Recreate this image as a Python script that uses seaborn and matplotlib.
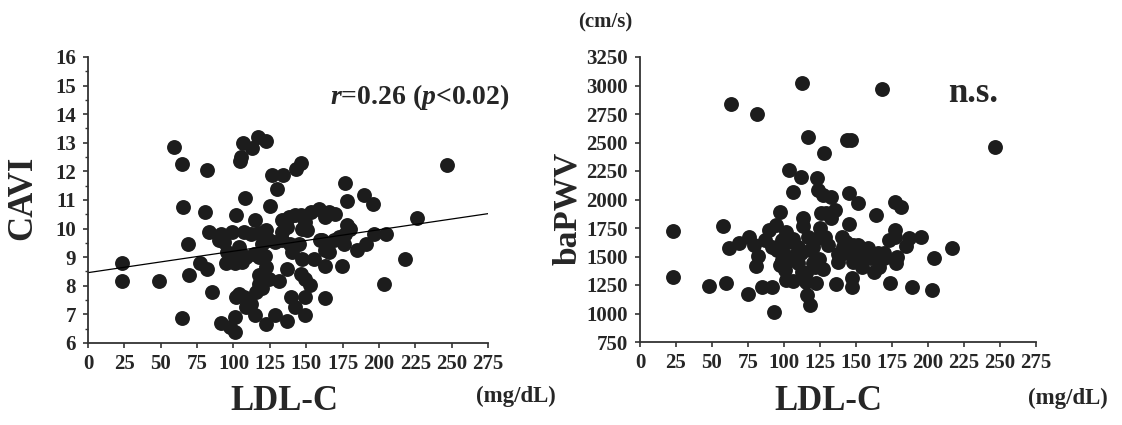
import numpy as np
import seaborn as sns
import matplotlib
matplotlib.use("Agg")
import matplotlib.pyplot as plt
from matplotlib.ticker import MultipleLocator

# LDL-C (mg/dL) vs CAVI
cavi_ldl = [23.3, 23.3, 48.9, 59.2, 64.9, 65.4, 69.0, 69.5, 64.9, 76.8,
            81.6, 82.1, 80.5, 85.5, 83.2, 91.2, 97.4, 101.0, 101.0, 101.5,
            104.9, 104.5, 106.5, 112.9, 116.8, 122.1, 107.9, 114.7, 124.8, 126.6,
            134.2, 130.1, 143.3, 146.1, 246.6, 176.9, 178.1, 189.5, 195.9, 226.1,
            205.0, 196.3, 191.1, 184.9, 218.1, 203.7, 174.6, 162.7, 163.2, 163.2,
            159.8, 170.1, 165.5, 158.6, 153.6, 155.2, 152.9, 149.5, 146.1, 147.2,
            149.0, 149.0, 139.9, 142.6, 136.9, 136.9, 131.2, 128.5, 122.1, 114.7,
            108.5, 101.5, 103.8, 107.2, 111.8, 115.2, 117.5, 120.2, 122.1, 124.3,
            119.8, 117.5, 103.8, 106.1, 105.0, 108.5, 94.6, 95.8, 99.2, 101.0,
            91.2, 90.1, 93.5, 99.2, 107.2, 111.8, 117.5, 122.1, 119.8, 124.3,
            128.9, 133.5, 133.5, 137.9, 142.4, 146.1, 139.2, 140.3, 145.0, 147.2,
            150.6, 149.5, 133.5, 136.9, 114.1, 117.5, 121.7, 172.3, 176.9, 180.3,
            178.1, 175.8, 168.9, 165.5, 163.2, 161.0]
cavi = [8.80, 8.17, 8.17, 12.86, 12.26, 10.77, 9.47, 8.37, 6.88, 8.80,
        8.57, 12.05, 10.58, 7.79, 9.88, 6.69, 6.57, 6.39, 6.92, 10.46,
        12.49, 12.38, 12.98, 12.82, 13.19, 13.07, 11.08, 10.29, 10.79, 11.88,
        11.88, 11.39, 12.09, 12.28, 12.23, 11.60, 10.98, 11.19, 10.87, 10.37,
        9.80, 9.80, 9.47, 9.26, 8.92, 8.06, 8.68, 7.59, 8.68, 9.26,
        9.59, 10.52, 10.58, 10.69, 10.58, 8.92, 8.02, 8.25, 8.43, 8.95,
        7.61, 6.98, 7.61, 7.27, 6.77, 8.60, 8.17, 6.98, 6.65, 6.98,
        7.27, 7.61, 7.73, 7.61, 7.38, 7.79, 8.08, 8.43, 8.66, 8.25,
        7.91, 8.37, 9.36, 8.83, 9.12, 9.01, 8.80, 9.18, 9.07, 8.78,
        9.82, 9.59, 9.53, 9.88, 9.88, 9.82, 9.84, 9.96, 9.47, 9.59,
        9.53, 9.61, 10.29, 10.40, 10.46, 10.46, 9.47, 9.18, 9.47, 10.00,
        9.96, 10.23, 9.88, 10.05, 9.12, 9.01, 9.03, 9.71, 9.82, 10.00,
        10.11, 9.47, 9.59, 9.18, 10.40, 9.59]

# regression line as printed in the figure (intercept, slope)
cavi_fit = (8.46, 0.0075)

# LDL-C (mg/dL) vs baPWV (cm/s), right panel
pwv_ldl = [23.0, 23.0, 48.2, 59.7, 57.7, 61.6, 63.2, 68.5, 74.9, 75.8,
           79.5, 82.2, 80.4, 81.1, 84.5, 91.4, 93.3, 89.6, 94.2, 97.2,
           86.8, 91.4, 94.9, 98.3, 101.1, 102.9, 97.2, 100.6, 101.7, 106.4,
           106.4, 103.6, 106.4, 111.6, 112.5, 113.3, 113.3, 107.5, 109.8, 112.5,
           115.5, 116.2, 117.8, 116.7, 117.8, 120.1, 122.4, 124.1, 127.0, 123.1,
           123.6, 127.0, 127.7, 132.8, 124.7, 125.9, 129.3, 123.6, 128.2, 130.5,
           135.5, 132.8, 136.2, 137.4, 140.1, 143.1, 143.8, 146.6, 145.4, 145.4,
           147.0, 147.7, 147.0, 147.0, 151.2, 151.2, 154.1, 156.9, 158.5, 162.6,
           163.8, 166.1, 169.1, 168.4, 173.0, 173.7, 176.9, 176.9, 176.9, 178.7,
           177.6, 181.5, 184.5, 186.8, 189.1, 194.8, 202.8, 204.5, 216.7, 246.5,
           96.0, 99.5, 109.8, 112.0, 115.5, 121.3, 140.8, 141.9, 151.2, 154.6,
           160.3, 165.0, 169.6, 98.3, 104.0, 116.7, 120.1, 137.4, 147.7]
bapwv = [1727, 1323, 1244, 1270, 1768, 1572, 2838, 1621, 1168, 1668,
         1601, 1504, 1417, 2750, 1235, 1235, 1010, 1732, 1776, 1887,
         1645, 1586, 1557, 1645, 1718, 1630, 1425, 1382, 1294, 1285,
         1651, 2259, 2069, 2200, 3025, 1841, 1768, 1513, 1440, 1367,
         1279, 1162, 1075, 2545, 1557, 1440, 1270, 1475, 1387, 2186,
         2083, 2039, 2405, 2025, 1753, 1879, 1879, 1659, 1668, 1601,
         1908, 1835, 1259, 1522, 1674, 1630, 2522, 2522, 2054, 1782,
         1513, 1601, 1308, 1235, 1972, 1513, 1411, 1513, 1572, 1367,
         1864, 1411, 1528, 2966, 1645, 1270, 1732, 1668, 1981, 1499,
         1440, 1937, 1592, 1659, 1235, 1674, 1206, 1484, 1572, 2463,
         1586, 1528, 1586, 1528, 1352, 1411, 1586, 1528, 1601, 1499,
         1484, 1528, 1484, 1469, 1469, 1674, 1586, 1455, 1455]

x_ticks = list(range(0, 276, 25))

sns.set_style("ticks")
plt.rcParams["font.family"] = ["Liberation Serif", "DejaVu Serif"]
plt.rcParams["font.weight"] = "bold"
plt.rcParams["mathtext.fontset"] = "custom"
plt.rcParams["mathtext.it"] = "Liberation Serif:italic:bold"
plt.rcParams["mathtext.rm"] = "Liberation Serif:bold"

W, H = 1122, 425
fig = plt.figure(figsize=(W / 100, H / 100), dpi=100)
ax1 = fig.add_axes([88 / W, 1 - 343 / H, 400 / W, 286 / H])
ax2 = fig.add_axes([640 / W, 1 - 342 / H, 396 / W, 285 / H])

dot = "#1c1c1c"
sns.scatterplot(x=cavi_ldl, y=cavi, ax=ax1, s=115, color=dot, linewidth=0)
ax1.axline((0, cavi_fit[0]), slope=cavi_fit[1], color="black", lw=0.9)
sns.scatterplot(x=pwv_ldl, y=bapwv, ax=ax2, s=115, color=dot, linewidth=0)

ax1.set_ylim(6, 16)
ax1.yaxis.set_major_locator(MultipleLocator(1))
ax1.yaxis.set_minor_locator(MultipleLocator(0.5))
ax2.set_ylim(750, 3250)
ax2.yaxis.set_major_locator(MultipleLocator(250))

for ax in (ax1, ax2):
    ax.set_xlim(0, 275)
    ax.set_xticks(x_ticks)
    ax.set_xlabel("")
    ax.set_ylabel("")
    sns.despine(ax=ax)
    for sp in ("left", "bottom"):
        ax.spines[sp].set_linewidth(1.3)
        ax.spines[sp].set_color("#333333")
    ax.tick_params(which="major", direction="out", length=3.6, width=1.2,
                   color="#333333", labelsize=15, pad=4)
    ax.tick_params(which="minor", direction="out", length=2.5, width=1.0,
                   color="#333333")
    ax.tick_params(axis="y", pad=5)
    for lab in ax.get_xticklabels() + ax.get_yticklabels():
        lab.set_fontweight("bold")

fig.text(23 / W, 1 - 198 / H, "CAVI", fontsize=25, rotation=90,
         ha="center", va="center")
fig.text(568 / W, 1 - 208 / H, "baPWV", fontsize=24, rotation=90,
         ha="center", va="center")
fig.text(284 / W, 1 - 402 / H, "LDL-C", fontsize=25, ha="center", va="center")
fig.text(828 / W, 1 - 402 / H, "LDL-C", fontsize=25, ha="center", va="center")
fig.text(516 / W, 1 - 396 / H, "(mg/dL)", fontsize=16.5, ha="center", va="center")
fig.text(1068 / W, 1 - 398 / H, "(mg/dL)", fontsize=16.5, ha="center", va="center")
fig.text(605 / W, 1 - 22 / H, "(cm/s)", fontsize=15, ha="center", va="center")
fig.text(330 / W, 1 - 97 / H, r"$r$=0.26 ($p$<0.02)", fontsize=20,
         ha="left", va="center")
fig.text(948 / W, 1 - 93 / H, "n.s.", fontsize=25, ha="left", va="center")

fig.savefig("out.png", dpi=100)
